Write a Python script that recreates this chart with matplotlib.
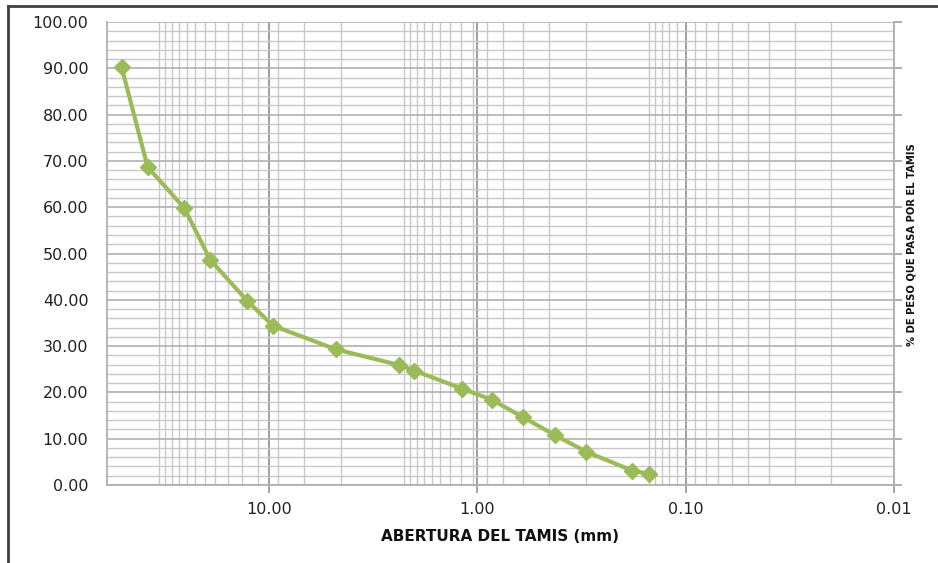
import numpy as np
import matplotlib
matplotlib.use("Agg")
import matplotlib.pyplot as plt
from matplotlib.lines import Line2D
from matplotlib.ticker import FixedLocator, NullFormatter

# sieve openings (mm) and % passing
abertura = [50.8, 38.1, 25.4, 19.05, 12.7, 9.525, 4.76, 2.36, 2.00, 1.18,
            0.85, 0.60, 0.425, 0.30, 0.18, 0.15]
pasa = [90.3, 68.7, 59.8, 48.6, 39.8, 34.4, 29.3, 25.9, 24.7, 20.8,
        18.4, 14.6, 10.8, 7.2, 3.1, 2.4]

x_major = [10, 1, 0.1, 0.01]
x_labels = ["10.00", "1.00", "0.10", "0.01"]
y_major = [0, 10, 20, 30, 40, 50, 60, 70, 80, 90, 100]

green = "#9BBB59"

fig = plt.figure(figsize=(9.38, 5.63), dpi=100)
ax = fig.add_axes([106.5 / 938, 78 / 563, (894 - 106.5) / 938, (485 - 22) / 563])

ax.set_xscale("log")
ax.set_xlim(60, 0.01)
ax.set_ylim(0, 100)

# Excel-style minor grid (linear steps inside each band)
minor = set()
for step in (0.01, 0.15, 2.25):
    for k in range(1, 16):
        minor.add(round(step * k, 4))
minor = sorted(v for v in minor if v not in (0.01, 0.1) and v < 60)
ax.xaxis.set_major_locator(FixedLocator(x_major))
ax.xaxis.set_minor_locator(FixedLocator(minor))
ax.xaxis.set_minor_formatter(NullFormatter())
ax.set_xticklabels(x_labels)

ax.yaxis.set_major_locator(FixedLocator(y_major))
ax.yaxis.set_minor_locator(FixedLocator(np.arange(0, 101, 2)))
ax.set_yticklabels([f"{v:.2f}" for v in y_major])

ax.grid(which="minor", axis="both", color="#C8C8C8", lw=1.0)
ax.grid(which="major", axis="y", color="#B0B0B0", lw=1.2)
ax.grid(which="major", axis="x", color="#969696", lw=1.3)
ax.set_axisbelow(True)

ax.tick_params(axis="x", which="major", length=6, width=1.2, color="#969696",
               direction="out", pad=6, labelsize=11.5, labelcolor="#222222")
ax.tick_params(axis="x", which="minor", length=0)
ax.tick_params(axis="y", which="major", left=False, right=True, length=6, width=1.2,
               color="#A0A0A0", direction="out", pad=7, labelsize=11.5,
               labelcolor="#222222")
ax.tick_params(axis="y", which="minor", length=0)

for side in ("left", "bottom", "right"):
    ax.spines[side].set_color("#B0B0B0")
    ax.spines[side].set_linewidth(1.3)
ax.spines["top"].set_visible(False)

ax.plot(abertura, pasa, color=green, lw=3, marker="D", markersize=8,
        markerfacecolor=green, markeredgecolor=green, clip_on=False, zorder=5)

ax.set_xlabel("ABERTURA DEL TAMIS (mm)", fontsize=11, fontweight="bold",
              labelpad=9, color="#111111")

fig.text(0.972, 0.565, "% DE PESO QUE PASA POR EL TAMIS", rotation=90,
         ha="center", va="center", fontsize=8, fontweight="bold",
         fontstretch="condensed", family="DejaVu Sans", color="#111111")

# chart area border (left and top visible)
fig.add_artist(Line2D([8 / 938, 8 / 938], [0, 1 - 6 / 563], color="#404040", lw=2,
                      transform=fig.transFigure))
fig.add_artist(Line2D([8 / 938, 1], [1 - 6 / 563, 1 - 6 / 563], color="#404040", lw=2,
                      transform=fig.transFigure))

fig.savefig("out.png", dpi=100)
